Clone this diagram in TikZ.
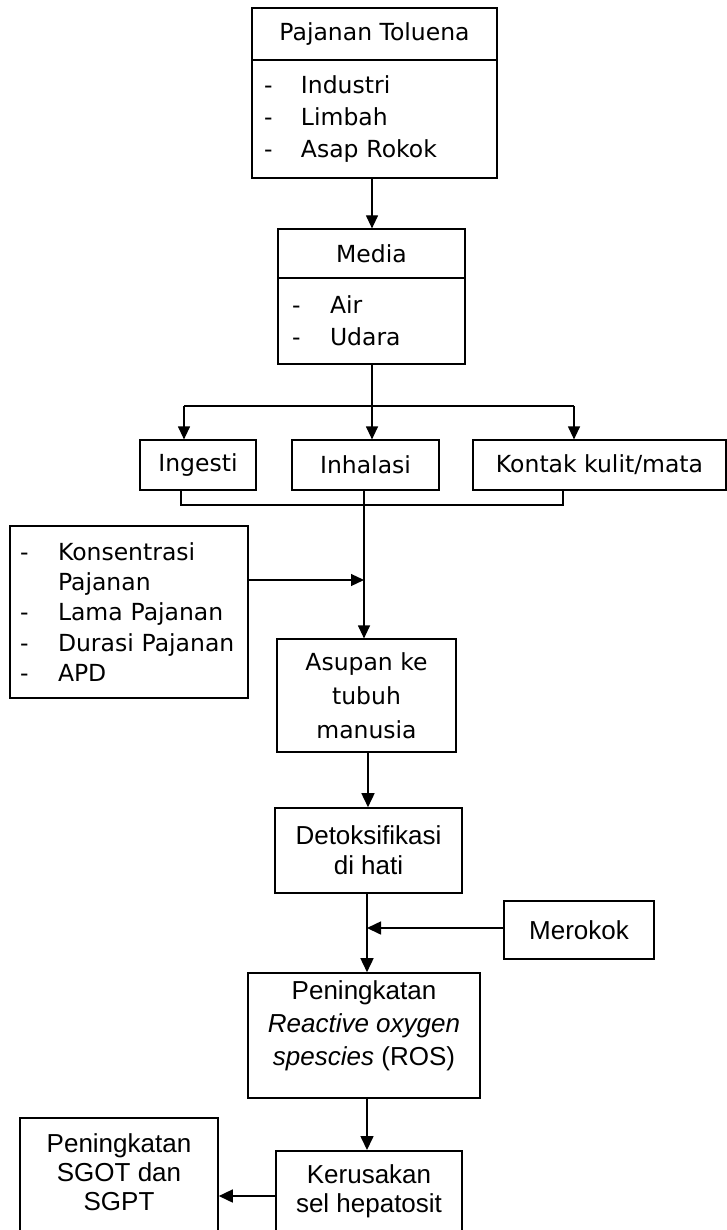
\documentclass[tikz,border=0pt]{standalone}
\usepackage{fontspec}
\setmainfont{Liberation Sans}
\newfontfamily\topf{DejaVu Sans}
\usetikzlibrary{arrows.meta}
\begin{document}
\begin{tikzpicture}[x=1pt,y=-1pt,
  tb/.style={draw, line width=1.2pt, inner sep=0pt, align=center, font=\topf\fontsize{23.5}{32}\selectfont},
  tl/.style={tb, align=left},
  bb/.style={draw, line width=1.6pt, inner sep=0pt, align=center, font=\fontsize{26}{30}\selectfont},
  btxt/.style={inner sep=0pt, align=center, font=\fontsize{26}{29}\selectfont},
  tcon/.style={line width=1.2pt},
  tarr/.style={line width=1.2pt, -{Triangle[length=13pt,width=12pt]}},
  bcon/.style={line width=1.6pt},
  barr/.style={line width=1.6pt, -{Triangle[length=14pt,width=13pt]}}]
\useasboundingbox (0,0) rectangle (727,1230);
\clip (0,0) rectangle (727,1230);
\newcommand{\dsh}[1]{\makebox[#1][l]{-}}
% top section
\node[tb, minimum width=245pt, minimum height=52pt] (pt) at (374.5,34) {Pajanan Toluena};
\node[tl, minimum width=245pt, minimum height=118pt, text width=221pt] (pl) at (374.5,119) {\dsh{37pt}Industri\\ \dsh{37pt}Limbah\\ \dsh{37pt}Asap Rokok\\[-6pt]};
\node[tb, minimum width=187pt, minimum height=49pt] (mt) at (371.5,253.5) {Media};
\node[tl, minimum width=187pt, minimum height=86pt, text width=159pt] (ml) at (371.5,321) {\dsh{38pt}Air\\ \dsh{38pt}Udara};
\draw[tarr] (pl.south -| 372,0) -- (mt.north -| 372,0);
\node[tb, minimum width=116pt, minimum height=50pt] (ing) at (198,465) {Ingesti};
\node[tb, minimum width=147pt, minimum height=50pt] (inh) at (365.5,465) {Inhalasi};
\node[tb, minimum width=253pt, minimum height=50pt] (kon) at (599.5,465) {Kontak kulit/mata};
\coordinate (br) at (372,406);
\coordinate (b1) at (184,406);
\coordinate (b3) at (574,406);
\draw[tcon] (ml.south -| br) -- (br);
\draw[tcon] (b1) -- (b3);
\draw[tarr] (b1) -- (b1 |- ing.north);
\draw[tarr] (br) -- (br |- inh.north);
\draw[tarr] (b3) -- (b3 |- kon.north);
\coordinate (j1) at (181,505);
\coordinate (j2) at (563,505);
\draw[tcon] (j1 |- ing.south) -- (j1) -- (j2) -- (j2 |- kon.south);
\node[tl, minimum width=238pt, minimum height=172pt, text width=218pt, font=\topf\fontsize{23.5}{30.2}\selectfont] (fac) at (129,612)
  {\dsh{38pt}Konsentrasi\\ \hspace*{38pt}Pajanan\\ \dsh{38pt}Lama Pajanan\\ \dsh{38pt}Durasi Pajanan\\ \dsh{38pt}APD};
\node[tb, minimum width=179pt, minimum height=113pt, font=\topf\fontsize{23.5}{34}\selectfont] (asu) at (366.5,695.5) {Asupan ke\\tubuh\\manusia};
\coordinate (m1) at (364,580);
\draw[tarr] (inh.south -| m1) -- (asu.north -| m1);
\draw[tarr] (fac.east |- m1) -- (m1);
% bottom section
\node[bb, minimum width=187pt, minimum height=85pt] (det) at (368.5,850.5) {Detoksifikasi\\di hati};
\draw[barr] (asu.south -| 368,0) -- (det.north -| 368,0);
\node[bb, minimum width=150pt, minimum height=58pt] (mer) at (579,930) {Merokok};
\node[bb, minimum width=232pt, minimum height=125pt, font=\fontsize{26}{33}\selectfont] (ros) at (364,1035.5) {Peningkatan\\\textit{Reactive oxygen}\\\textit{spescies} (ROS)\\[-8pt]};
\coordinate (m2) at (367,928);
\draw[barr] (det.south -| m2) -- (ros.north -| m2);
\draw[barr] (mer.west |- m2) -- (m2);
\node[bb, minimum width=186pt, minimum height=120pt, anchor=north] (ker) at (369,1150) {};
\node[btxt] (kert) at (369,1191) {Kerusakan\\sel hepatosit};
\node[bb, minimum width=198pt, minimum height=150pt, anchor=north] (sg) at (119,1117) {};
\node[btxt] (sgt) at (119,1172) {Peningkatan\\SGOT dan\\SGPT};
\draw[barr] (ros.south -| 367,0) -- (ker.north -| 367,0);
\coordinate (ka) at (276,1196);
\draw[barr] (ka) -- (ka -| sg.east);
\end{tikzpicture}
\end{document}
